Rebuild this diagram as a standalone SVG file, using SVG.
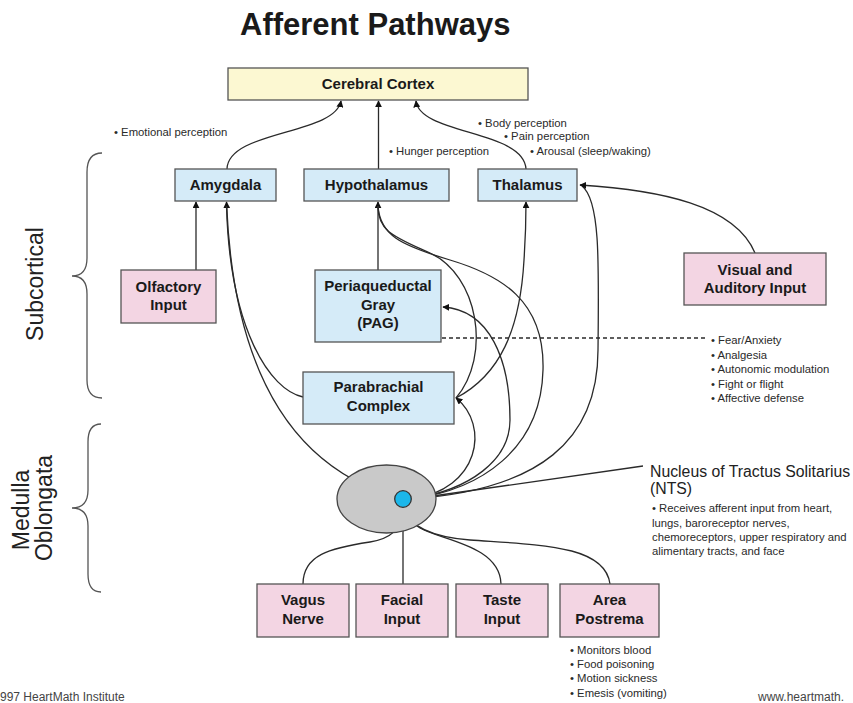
<svg xmlns="http://www.w3.org/2000/svg" width="853" height="703" viewBox="0 0 853 703">
<style>
text{font-family:"Liberation Sans",Arial,Helvetica,sans-serif;fill:#1a1a1a}
.title{font-size:31px;font-weight:bold}
.bx{font-size:15px;font-weight:bold;text-anchor:middle}
.sm{font-size:11.3px;fill:#2a2a2a}
.big{font-size:23px;fill:#222}
.nts{font-size:15.8px;fill:#222}
.foot{font-size:12px;fill:#444}
.blue{fill:#d5ebf8;stroke:#555;stroke-width:1.3}
.pink{fill:#f3d5e3;stroke:#555;stroke-width:1.3}
.yel{fill:#fcf8d2;stroke:#555;stroke-width:1.3}
.c{fill:none;stroke:#2a2a2a;stroke-width:1.3}
.brace{fill:none;stroke:#555;stroke-width:1.3}
</style>
<defs>
<marker id="ah" viewBox="0 0 10 10" refX="9" refY="5" markerWidth="7" markerHeight="7" orient="auto" markerUnits="userSpaceOnUse">
<path d="M0,0 L10,5 L0,10 z" fill="#111"/>
</marker>
</defs>
<rect width="853" height="703" fill="#fff"/>
<text class="title" x="240" y="35">Afferent Pathways</text>

<g id="braces">
<path class="brace" d="M102,153 Q87,153 87,172 L87,258 Q87,276 72,276 Q87,276 87,294 L87,380 Q87,398 102,398"/>
<path class="brace" d="M101,424 Q88,424 88,442 L88,490 Q88,508 72,508 Q88,508 88,526 L88,574 Q88,592 101,592"/>
<text class="big" transform="translate(43,284) rotate(-90)" text-anchor="middle">Subcortical</text>
<text class="big" transform="translate(28.5,510) rotate(-90)" text-anchor="middle">Medulla</text>
<text class="big" transform="translate(52,508) rotate(-90)" text-anchor="middle">Oblongata</text>
</g>

<g id="connectors">
<!-- to cortex -->
<path class="c" d="M227,169 C228,130 335,135 341,101" marker-end="url(#ah)"/>
<path class="c" d="M378.5,169 L378.5,101" marker-end="url(#ah)"/>
<path class="c" d="M526,169 C524,130 420,135 416,101" marker-end="url(#ah)"/>
<!-- olfactory -->
<path class="c" d="M196,270 L196,202" marker-end="url(#ah)"/>
<!-- to amygdala -->
<path class="c" d="M403,499 C330,480 235,420 226.5,202" marker-end="url(#ah)"/>
<path class="c" d="M303,397 C270,390 230,330 226.5,206"/>
<!-- PAG to hypothalamus -->
<path class="c" d="M378,270 L378,202" marker-end="url(#ah)"/>
<!-- parabrachial to hypothalamus -->
<path class="c" d="M456,398 C492,355 478,275 430,253 C395,237 378,232 378,206"/>
<!-- NTS to hypothalamus -->
<path class="c" d="M411,499 C480,490 541,450 543,370 C545,300 500,275 450,260 C400,245 380,235 378,206"/>
<!-- parabrachial to thalamus -->
<path class="c" d="M456,398 C500,375 520,330 524,260 C526,230 526,222 526,202" marker-end="url(#ah)"/>
<!-- NTS to PAG -->
<path class="c" d="M411,499 C470,490 510,460 510,420 C510,360 490,310 443,307" marker-end="url(#ah)"/>
<!-- NTS to parabrachial -->
<path class="c" d="M411,499 C480,490 490,425 456,398" marker-end="url(#ah)"/>
<!-- NTS to thalamus right -->
<path class="c" d="M411,499 C540,490 598,440 598,350 C599,260 600,200 582,186"/>
<!-- visual to thalamus -->
<path class="c" d="M755,253 C735,205 660,190 580,185" marker-end="url(#ah)"/>
<!-- PAG dashed -->
<path class="c" d="M442,338 L708,338" stroke-dasharray="4,3"/>
<!-- NTS label line -->
<path class="c" d="M412,499 L643,466"/>
<!-- bottom inputs -->
<path class="c" d="M303,584 C303,555 330,548 370,542 C395,538 402,525 403,512"/>
<path class="c" d="M403,584 L403,509" marker-end="url(#ah)"/>
<path class="c" d="M501,584 C500,545 440,540 420,528 C410,522 405,515 404,511"/>
<path class="c" d="M610,584 C605,545 540,545 470,540 C430,537 410,525 405,511"/>
</g>

<g id="cortex">
<rect class="yel" x="228" y="68" width="300" height="32"/>
<text class="bx" x="378" y="89">Cerebral Cortex</text>
</g>
<g id="amygdala">
<rect class="blue" x="175" y="169" width="101" height="32"/>
<text class="bx" x="225.5" y="190">Amygdala</text>
</g>
<g id="hypothalamus">
<rect class="blue" x="304" y="169" width="145" height="32"/>
<text class="bx" x="376.5" y="190">Hypothalamus</text>
</g>
<g id="thalamus">
<rect class="blue" x="478" y="169" width="99" height="32"/>
<text class="bx" x="527.5" y="190">Thalamus</text>
</g>
<g id="olfactory">
<rect class="pink" x="121" y="270" width="95" height="53"/>
<text class="bx" x="168.5" y="292">Olfactory</text>
<text class="bx" x="168.5" y="310">Input</text>
</g>
<g id="pag">
<rect class="blue" x="315" y="270" width="126" height="72"/>
<text class="bx" x="378" y="291">Periaqueductal</text>
<text class="bx" x="378" y="310">Gray</text>
<text class="bx" x="378" y="328">(PAG)</text>
</g>
<g id="parabrachial">
<rect class="blue" x="303" y="372" width="151" height="52"/>
<text class="bx" x="378.5" y="392">Parabrachial</text>
<text class="bx" x="378.5" y="411">Complex</text>
</g>
<g id="visual">
<rect class="pink" x="684" y="253" width="142" height="52"/>
<text class="bx" x="755" y="275">Visual and</text>
<text class="bx" x="755" y="293">Auditory Input</text>
</g>
<g id="nts">
<ellipse cx="386.5" cy="499" rx="49.5" ry="34" fill="#c9c9c9" stroke="#444" stroke-width="1.3"/>
<circle cx="403" cy="499" r="8.3" fill="#1cb7ea" stroke="#333" stroke-width="1.3"/>
</g>
<g id="vagus">
<rect class="pink" x="257" y="584" width="92" height="53"/>
<text class="bx" x="303" y="605">Vagus</text>
<text class="bx" x="303" y="624">Nerve</text>
</g>
<g id="facial">
<rect class="pink" x="356" y="584" width="92" height="53"/>
<text class="bx" x="402" y="605">Facial</text>
<text class="bx" x="402" y="624">Input</text>
</g>
<g id="taste">
<rect class="pink" x="456" y="584" width="92" height="53"/>
<text class="bx" x="502" y="605">Taste</text>
<text class="bx" x="502" y="624">Input</text>
</g>
<g id="postrema">
<rect class="pink" x="560" y="584" width="99" height="53"/>
<text class="bx" x="609.5" y="605">Area</text>
<text class="bx" x="609.5" y="624">Postrema</text>
</g>

<g id="labels">
<text class="sm" x="114" y="136">• Emotional perception</text>
<text class="sm" x="478" y="127">• Body perception</text>
<text class="sm" x="504" y="140">• Pain perception</text>
<text class="sm" x="530" y="155">• Arousal (sleep/waking)</text>
<text class="sm" x="389" y="155">• Hunger perception</text>
<text class="sm" x="711" y="344">• Fear/Anxiety</text>
<text class="sm" x="711" y="359">• Analgesia</text>
<text class="sm" x="711" y="373">• Autonomic modulation</text>
<text class="sm" x="711" y="388">• Fight or flight</text>
<text class="sm" x="711" y="402">• Affective defense</text>
<text class="nts" x="650" y="477">Nucleus of Tractus Solitarius</text>
<text class="nts" x="650" y="494">(NTS)</text>
<text class="sm" x="652" y="512">• Receives afferent input from heart,</text>
<text class="sm" x="652" y="527">lungs, baroreceptor nerves,</text>
<text class="sm" x="652" y="541">chemoreceptors, upper respiratory and</text>
<text class="sm" x="652" y="555">alimentary tracts, and face</text>
<text class="sm" x="570" y="654">• Monitors blood</text>
<text class="sm" x="570" y="668">• Food poisoning</text>
<text class="sm" x="570" y="682">• Motion sickness</text>
<text class="sm" x="570" y="697">• Emesis (vomiting)</text>
<text class="foot" x="0" y="701">997 HeartMath Institute</text>
<text class="foot" x="758" y="701">www.heartmath.</text>
</g>
</svg>
